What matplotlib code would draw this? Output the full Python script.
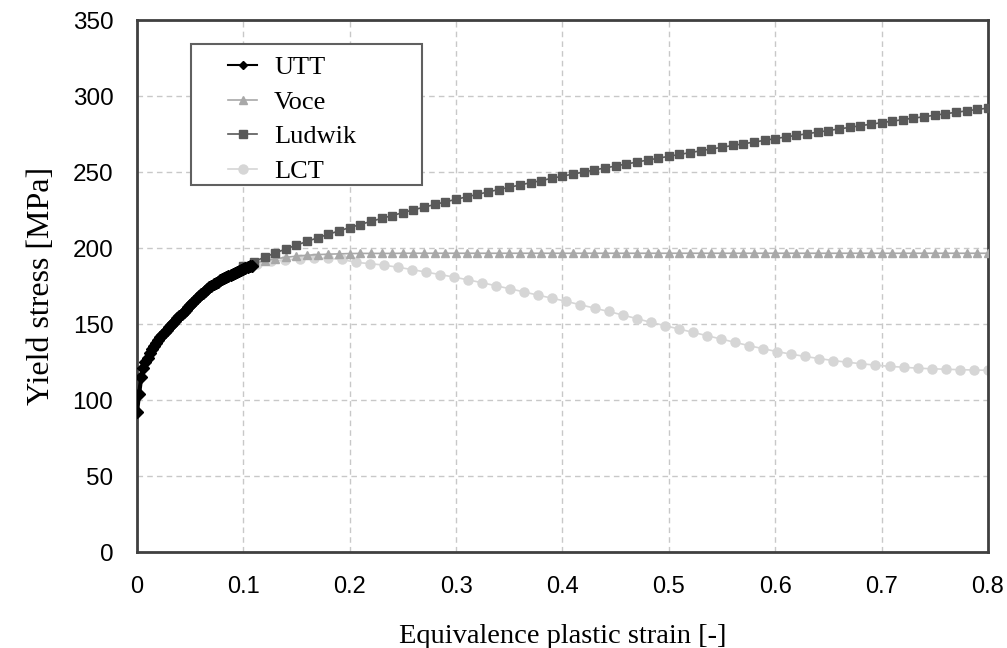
import numpy as np
import matplotlib
matplotlib.use('Agg')
import matplotlib.pyplot as plt
from matplotlib.patches import Rectangle

# uniaxial tensile test data (strain, stress)
utt_strain = np.round(np.arange(0.0, 0.1081, 0.002), 3)
utt_stress = [92.0, 104.0, 115.0, 121.0, 125.0, 128.0, 130.8, 133.3, 135.5, 137.6,
              139.5, 141.3, 143.0, 144.7, 146.3, 147.8, 149.3, 150.8, 152.3, 153.8,
              155.3, 156.8, 158.2, 159.6, 161.0, 162.6, 164.1, 165.5, 166.9, 168.2,
              169.5, 170.7, 171.9, 173.0, 174.1, 175.1, 176.1, 177.0, 177.9, 178.7,
              179.5, 180.3, 181.1, 181.8, 182.5, 183.2, 183.9, 184.5, 185.1, 185.7,
              186.3, 186.9, 187.4, 187.9, 188.3]

fit_strain = np.round(np.arange(0.10, 0.8001, 0.01), 2)
voce_stress = [188.0, 190.0, 191.6, 192.9, 193.9, 194.7, 195.3, 195.7, 196.0, 196.2,
               196.4, 196.5, 196.5, 196.5, 196.5, 196.6, 196.6, 196.6, 196.6, 196.6,
               196.6, 196.6, 196.6, 196.6, 196.6, 196.6, 196.6, 196.6, 196.6, 196.6,
               196.6, 196.6, 196.6, 196.6, 196.6, 196.6, 196.6, 196.6, 196.6, 196.6,
               196.6, 196.6, 196.6, 196.6, 196.6, 196.6, 196.6, 196.6, 196.6, 196.6,
               196.6, 196.6, 196.6, 196.6, 196.6, 196.6, 196.6, 196.6, 196.6, 196.6,
               196.6, 196.6, 196.6, 196.6, 196.6, 196.6, 196.6, 196.6, 196.6, 196.6,
               196.6]
ludwik_stress = [188.0, 191.1, 194.0, 196.8, 199.4, 202.0, 204.4, 206.8, 209.1, 211.3,
                 213.5, 215.5, 217.6, 219.5, 221.4, 223.3, 225.2, 226.9, 228.7, 230.4,
                 232.1, 233.7, 235.3, 236.9, 238.5, 240.0, 241.5, 243.0, 244.4, 245.9,
                 247.3, 248.7, 250.0, 251.4, 252.7, 254.0, 255.3, 256.6, 257.9, 259.1,
                 260.4, 261.6, 262.8, 264.0, 265.2, 266.3, 267.5, 268.6, 269.7, 270.9,
                 272.0, 273.1, 274.2, 275.2, 276.3, 277.3, 278.4, 279.4, 280.5, 281.5,
                 282.5, 283.5, 284.5, 285.5, 286.4, 287.4, 288.4, 289.3, 290.3, 291.2,
                 292.1]

lct_strain = np.linspace(0.1, 0.8, 54)
lct_stress = [188.0, 189.8, 191.2, 192.3, 193.0, 193.3, 193.2, 192.6, 190.6, 189.8,
              188.8, 187.4, 185.9, 184.2, 182.6, 180.9, 179.1, 177.2, 175.2, 173.2,
              171.1, 169.0, 167.0, 164.9, 162.7, 160.5, 158.3, 156.0, 153.6, 151.2,
              149.0, 146.8, 144.6, 142.4, 140.2, 138.0, 135.8, 133.8, 131.9, 130.2,
              128.7, 127.3, 126.0, 124.9, 123.9, 123.0, 122.2, 121.6, 121.0, 120.6,
              120.3, 120.0, 119.8, 119.6]

yticks = [0, 50, 100, 150, 200, 250, 300, 350]
xticks = [0, 0.1, 0.2, 0.3, 0.4, 0.5, 0.6, 0.7, 0.8]
xticklabels = ['0', '0.1', '0.2', '0.3', '0.4', '0.5', '0.6', '0.7', '0.8']

fig = plt.figure(figsize=(10.07, 6.48), dpi=100)
ax = fig.add_axes([0.136, 0.148, 0.845, 0.821])

ax.plot(lct_strain, lct_stress, '-o', color='#d6d6d6', lw=1.2, ms=6.5, label='LCT', zorder=2)
ax.plot(fit_strain, voce_stress, '-^', color='#a8a8a8', lw=1.2, ms=6, label='Voce', zorder=3)
ax.plot(fit_strain, ludwik_stress, '-s', color='#595959', lw=1.2, ms=5.8, label='Ludwik', zorder=4)
ax.plot(utt_strain, utt_stress, '-D', color='black', lw=3, ms=6, label='UTT', zorder=5)

ax.set_xlim(0, 0.8)
ax.set_ylim(0, 350)
ax.set_xticks(xticks)
ax.set_xticklabels(xticklabels, family='Liberation Sans', fontsize=17)
ax.set_yticks(yticks)
ax.set_yticklabels([str(v) for v in yticks], family='Liberation Sans', fontsize=17.5)
ax.tick_params(axis='y', length=0, pad=17)
ax.tick_params(axis='x', length=0, pad=17)

ax.grid(True, color='#c8c8c8', linestyle=(0, (4, 3)), linewidth=1)
ax.set_axisbelow(True)
for sp in ax.spines.values():
    sp.set_color('#404040')
    sp.set_linewidth(2)

ax.set_xlabel('Equivalence plastic strain [-]', family='Liberation Serif', fontsize=20.5, labelpad=19)
ax.set_ylabel('Yield stress [MPa]', family='Liberation Serif', fontsize=23, labelpad=12)

# legend box drawn separately so the entries can sit inside a wider frame
box = Rectangle((0.0635, 0.69), 0.2715, 0.265, transform=ax.transAxes, facecolor='white',
                edgecolor='#606060', linewidth=1.5, zorder=6)
ax.add_patch(box)

h, l = ax.get_legend_handles_labels()
order = [3, 1, 2, 0]
leg = ax.legend([h[i] for i in order], [l[i] for i in order],
                loc='upper left', bbox_to_anchor=(0.107, 0.933),
                prop={'family': 'Liberation Serif', 'size': 19}, frameon=False,
                handlelength=1.1, handletextpad=0.65, labelspacing=0.42,
                borderpad=0, borderaxespad=0)
leg.set_zorder(7)
utt_handle = leg.legend_handles[0]
utt_handle.set_linewidth(1.5)
utt_handle.set_markersize(4.5)

fig.savefig('out.png', dpi=100)
